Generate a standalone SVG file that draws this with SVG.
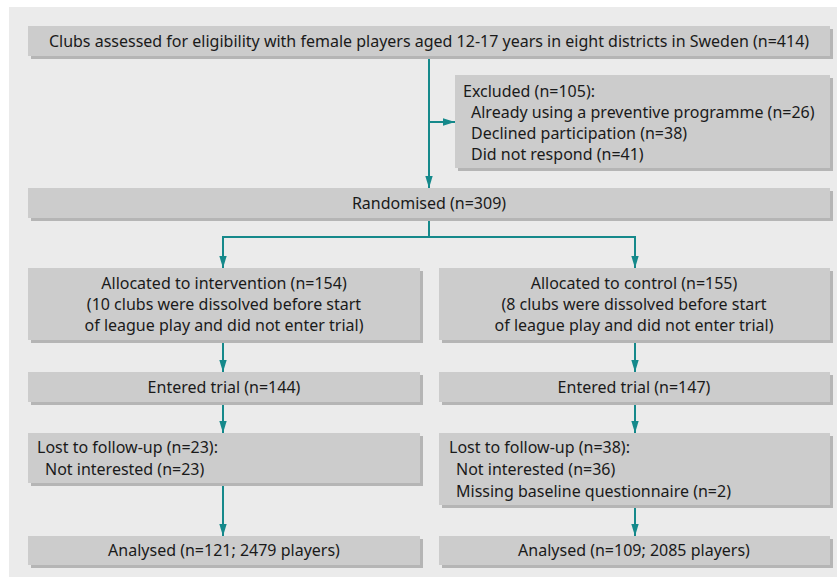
<svg xmlns="http://www.w3.org/2000/svg" width="837" height="577" viewBox="0 0 837 577">
<defs>
<style>
.box{fill:#cccccc}
.sh{fill:#b5b5b5}
.t{font-family:"Noto Sans","Liberation Sans",sans-serif;font-size:16px;fill:#1a1a1a}
.c{text-anchor:middle}
.ln{stroke:#15898b;stroke-width:2;fill:none}
</style>
<marker id="ah" markerWidth="12" markerHeight="8" refX="12" refY="4" orient="auto" markerUnits="userSpaceOnUse">
<path d="M0,0.3 L12,4 L0,7.7 Z" fill="#15898b"/>
</marker>
</defs>
<rect x="0" y="0" width="837" height="577" fill="#ffffff"/>
<rect x="9" y="7" width="828" height="570" fill="#ebebeb"/>

<g id="connectors">
<path class="ln" d="M429,56 V188" marker-end="url(#ah)"/>
<path class="ln" d="M429,122 H455" marker-end="url(#ah)"/>
<path class="ln" d="M429,218 V237 M223,237 H635"/>
<path class="ln" d="M223,236 V268" marker-end="url(#ah)"/>
<path class="ln" d="M635,236 V268" marker-end="url(#ah)"/>
<path class="ln" d="M223,340 V372" marker-end="url(#ah)"/>
<path class="ln" d="M635,340 V372" marker-end="url(#ah)"/>
<path class="ln" d="M223,402 V433" marker-end="url(#ah)"/>
<path class="ln" d="M635,402 V433" marker-end="url(#ah)"/>
<path class="ln" d="M223,483 V536" marker-end="url(#ah)"/>
<path class="ln" d="M635,505 V536" marker-end="url(#ah)"/>
</g>

<g id="assessed">
<rect class="sh" x="31" y="29" width="802" height="30"/>
<rect class="box" x="28" y="26" width="802" height="30"/>
<text class="t c" x="429" y="47">Clubs assessed for eligibility with female players aged 12-17 years in eight districts in Sweden (n=414)</text>
</g>

<g id="excluded">
<rect class="sh" x="458" y="78" width="375" height="93"/>
<rect class="box" x="455" y="75" width="375" height="93"/>
<text class="t" x="463" y="97">Excluded (n=105):</text>
<text class="t" x="471" y="118">Already using a preventive programme (n=26)</text>
<text class="t" x="471" y="139">Declined participation (n=38)</text>
<text class="t" x="471" y="160">Did not respond (n=41)</text>
</g>

<g id="randomised">
<rect class="sh" x="31" y="191" width="802" height="30"/>
<rect class="box" x="28" y="188" width="802" height="30"/>
<text class="t c" x="429" y="209">Randomised (n=309)</text>
</g>

<g id="alloc-int">
<rect class="sh" x="31" y="271" width="392" height="72"/>
<rect class="box" x="28" y="268" width="392" height="72"/>
<text class="t c" x="224" y="289">Allocated to intervention (n=154)</text>
<text class="t c" x="224" y="310">(10 clubs were dissolved before start</text>
<text class="t c" x="224" y="331">of league play and did not enter trial)</text>
</g>

<g id="alloc-ctl">
<rect class="sh" x="442" y="271" width="391" height="72"/>
<rect class="box" x="439" y="268" width="391" height="72"/>
<text class="t c" x="634" y="289">Allocated to control (n=155)</text>
<text class="t c" x="634" y="310">(8 clubs were dissolved before start</text>
<text class="t c" x="634" y="331">of league play and did not enter trial)</text>
</g>

<g id="entered-int">
<rect class="sh" x="31" y="375" width="392" height="30"/>
<rect class="box" x="28" y="372" width="392" height="30"/>
<text class="t c" x="224" y="393">Entered trial (n=144)</text>
</g>

<g id="entered-ctl">
<rect class="sh" x="442" y="375" width="391" height="30"/>
<rect class="box" x="439" y="372" width="391" height="30"/>
<text class="t c" x="634" y="393">Entered trial (n=147)</text>
</g>

<g id="lost-int">
<rect class="sh" x="31" y="436" width="392" height="50"/>
<rect class="box" x="28" y="433" width="392" height="50"/>
<text class="t" x="37" y="453">Lost to follow-up (n=23):</text>
<text class="t" x="45" y="475">Not interested (n=23)</text>
</g>

<g id="lost-ctl">
<rect class="sh" x="442" y="436" width="391" height="72"/>
<rect class="box" x="439" y="433" width="391" height="72"/>
<text class="t" x="449" y="453">Lost to follow-up (n=38):</text>
<text class="t" x="456" y="475">Not interested (n=36)</text>
<text class="t" x="456" y="497">Missing baseline questionnaire (n=2)</text>
</g>

<g id="analysed-int">
<rect class="sh" x="31" y="539" width="392" height="29"/>
<rect class="box" x="28" y="536" width="392" height="29"/>
<text class="t c" x="224" y="556">Analysed (n=121; 2479 players)</text>
</g>

<g id="analysed-ctl">
<rect class="sh" x="442" y="539" width="391" height="29"/>
<rect class="box" x="439" y="536" width="391" height="29"/>
<text class="t c" x="634" y="556">Analysed (n=109; 2085 players)</text>
</g>
</svg>
